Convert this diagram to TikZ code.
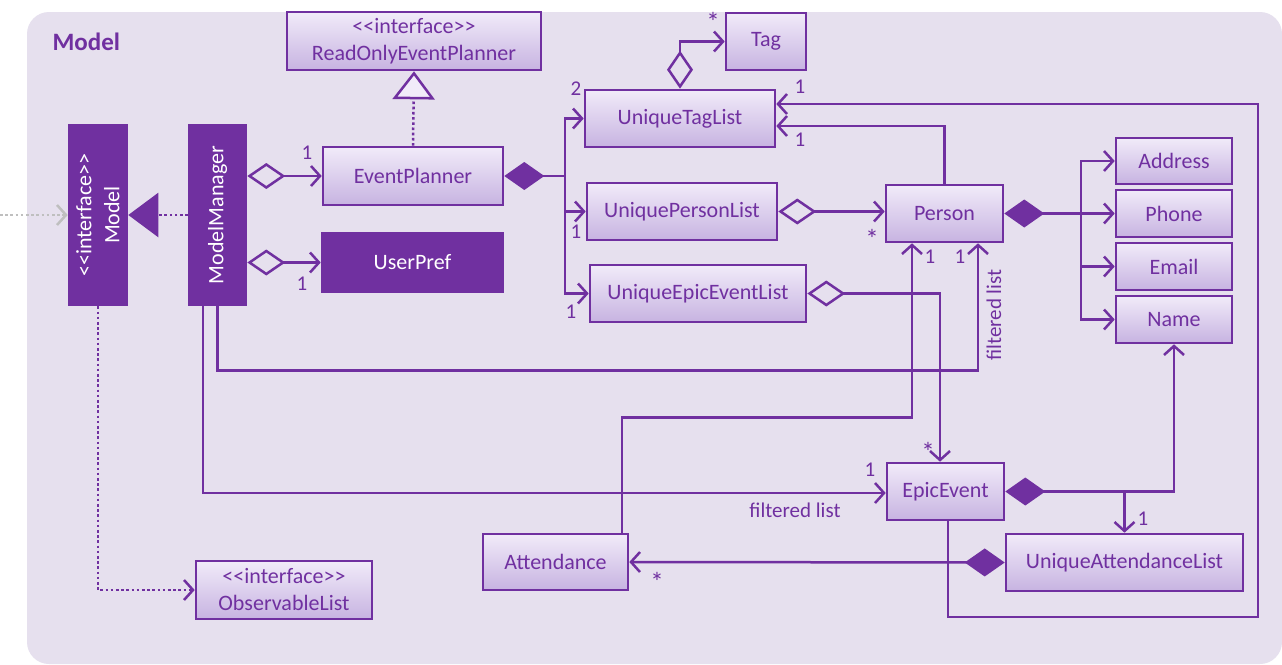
\documentclass[tikz,border=0pt]{standalone}
\usepackage{fontspec}
\setmainfont{Carlito}
\usetikzlibrary{arrows.meta,calc}
\definecolor{pc}{HTML}{7030A0}
\definecolor{panel}{HTML}{E6E0EE}
\definecolor{gtop}{HTML}{F1EBF9}
\definecolor{gbot}{HTML}{C7B3E1}
\definecolor{gry}{HTML}{BFBFBF}
\tikzset{
  cls/.style={draw=pc, line width=2.6pt, top color=gtop, bottom color=gbot, text=pc,
    font=\fontsize{22}{27}\selectfont, inner sep=0pt, align=center},
  solidcls/.style={draw=pc, line width=2.6pt, fill=pc, text=white,
    font=\fontsize{22}{27}\selectfont, inner sep=0pt, align=center},
  conn/.style={draw=pc, line width=2.5pt},
  assoc/.style={conn, -{Straight Barb[length=9pt,width=20pt]}},
  agg/.style={conn, {Diamond[open,length=38pt,width=26pt]}-{Straight Barb[length=9pt,width=20pt]}},
  comp/.style={conn, {Diamond[length=40pt,width=28pt]}-{Straight Barb[length=9pt,width=20pt]}},
  comphead/.style={conn, {Diamond[length=40pt,width=28pt]}-},
  dots/.style={dash pattern=on 2.6pt off 2.6pt},
  mult/.style={text=pc, font=\fontsize{21}{24}\selectfont, inner sep=0pt},
  star/.style={text=pc, font=\fontsize{27}{28}\selectfont, inner sep=0pt},
}
\begin{document}
\begin{tikzpicture}[x=1pt,y=-1pt]
\useasboundingbox (0,0) rectangle (1282,664);
\fill[white] (0,0) rectangle (1282,664);
\fill[panel, rounded corners=22pt] (27,12) rectangle (1282,664);
\node[text=pc, font=\fontsize{25}{28}\selectfont\bfseries, anchor=west] (title) at (49,42) {Model};

% classes
\node[cls, minimum width=254pt, minimum height=58pt] (rep) at (414,41) {<{}<interface>{}>\\ReadOnlyEventPlanner};
\node[cls, minimum width=180pt, minimum height=58pt] (ep) at (413,176) {EventPlanner};
\node[solidcls, minimum width=181pt, minimum height=59pt] (up) at (412.5,262.5) {UserPref};
\node[solidcls, minimum width=58pt, minimum height=180pt] (model) at (98,215) {};
\node[text=white, font=\fontsize{22}{28}\selectfont, align=center, rotate=90] (modeltxt) at (model.center) {<{}<interface>{}>\\Model};
\node[solidcls, minimum width=57pt, minimum height=180pt] (mm) at (217.5,215) {};
\node[text=white, font=\fontsize{22}{27}\selectfont, rotate=90] (mmtxt) at (mm.center) {ModelManager};
\node[cls, minimum width=176pt, minimum height=58pt] (ol) at (284,590) {<{}<interface>{}>\\ObservableList};
\node[cls, minimum width=190pt, minimum height=57pt] (utl) at (680,118.5) {UniqueTagList};
\node[cls, minimum width=80pt, minimum height=57pt] (tag) at (766,41.5) {Tag};
\node[cls, minimum width=190pt, minimum height=57pt] (upl) at (682,211.5) {UniquePersonList};
\node[cls, minimum width=216pt, minimum height=57pt] (uel) at (698,293.5) {UniqueEpicEventList};
\node[cls, minimum width=117pt, minimum height=57pt] (person) at (944.5,213.5) {Person};
\node[cls, minimum width=116pt, minimum height=46pt] (addr) at (1174,161) {Address};
\node[cls, minimum width=116pt, minimum height=47pt] (phone) at (1174,213.5) {Phone};
\node[cls, minimum width=116pt, minimum height=47pt] (email) at (1174,266.5) {Email};
\node[cls, minimum width=116pt, minimum height=47pt] (name) at (1174,319.5) {Name};
\node[cls, minimum width=117pt, minimum height=57pt] (ee) at (945.5,491.5) {EpicEvent};
\node[cls, minimum width=145pt, minimum height=56pt] (att) at (555.5,562) {Attendance};
\node[cls, minimum width=237pt, minimum height=57pt] (uatl) at (1124.5,562.5) {UniqueAttendanceList};

% branch points
\coordinate (b1) at (565,176);
\coordinate (b2) at (1081,213.5);
\coordinate (ext) at (0,215);
\coordinate (fr) at (1258,617);

% realization / interface relations
\draw[conn, dots, -{Triangle[length=28pt,width=42pt,fill=gtop]}] (ep.north) -- (rep.south);
\draw[conn, dots, -{Triangle[length=30pt,width=44pt,fill=pc]}] (mm.west) -- (model.east);
\draw[draw=gry, line width=2.5pt, dots, -{Straight Barb[length=9pt,width=20pt]}] (ext) -- (model.west);
\draw[conn, dots, -{Straight Barb[length=9pt,width=20pt]}] (model.south) |- (ol.west);

% ModelManager aggregations
\draw[agg] (mm.east |- ep.west) -- (ep.west);
\draw[agg] (mm.east |- up.west) -- (up.west);

% EventPlanner composition
\draw[comphead] (ep.east) -- (b1);
\draw[assoc] (b1) |- (utl.west);
\draw[assoc] (b1) |- (upl.west);
\draw[assoc] (b1) |- (uel.west);

% UniqueTagList -> Tag
\draw[agg] (utl.north) |- (tag.west);

% UniquePersonList -> Person
\draw[agg] (upl.east) -- (upl.east -| person.west);

% Person -> UniqueTagList
\draw[assoc] (person.north) |- ($(utl.east)+(0,7.5)$);

% EpicEvent -> UniqueTagList (outer loop)
\draw[assoc] ([xshift=2.5pt]ee.south) |- (fr) |- ($(utl.east)+(0,-14.5)$);

% Person composition
\draw[comphead] (person.east) -- (b2);
\draw[assoc] (b2) |- (addr.west);
\draw[assoc] (b2) -- (phone.west);
\draw[assoc] (b2) |- (email.west);
\draw[assoc] (b2) |- (name.west);

% UniqueEpicEventList -> EpicEvent
\draw[agg] (uel.east) -| ([xshift=-5.5pt]ee.north);

% ModelManager filtered lists
\draw[assoc] (mm.south) -- ++(0,64) -| ([xshift=33.5pt]person.south);
\draw[assoc] ([xshift=-14.5pt]mm.south) |- ([yshift=-1.5pt]ee.west);

% Attendance -> Person
\draw[assoc] ([xshift=66.5pt]att.north) -- ++(0,-115) -| ([xshift=-32.5pt]person.south);

% EpicEvent composition
\draw[comphead] (ee.east) -- (ee.east -| uatl.north);
\draw[assoc] (ee.east -| uatl.north) -| (name.south);
\draw[assoc] (ee.east -| uatl.north) -- (uatl.north);

% UniqueAttendanceList -> Attendance
\draw[comp] (uatl.west) -- (att.east);

% multiplicities
\node[mult] (m1) at (307,153) {1};
\node[mult] (m2) at (302,284) {1};
\node[mult] (m3) at (576,89) {2};
\node[mult] (m4) at (576,232) {1};
\node[mult] (m5) at (571,312) {1};
\node[star] (m6) at (713,22) {*};
\node[mult] (m7) at (800,87) {1};
\node[mult] (m8) at (800,140) {1};
\node[star] (m9) at (872,239) {*};
\node[mult] (m10) at (930,257) {1};
\node[mult] (m11) at (960,257) {1};
\node[star] (m12) at (928,452) {*};
\node[mult] (m13) at (870,470) {1};
\node[mult] (m14) at (1143,519) {1};
\node[star] (m15) at (657,582) {*};
\node[mult, rotate=90] (fl1) at (994,315) {filtered list};
\node[mult] (fl2) at (795,510) {filtered list};
\end{tikzpicture}
\end{document}
